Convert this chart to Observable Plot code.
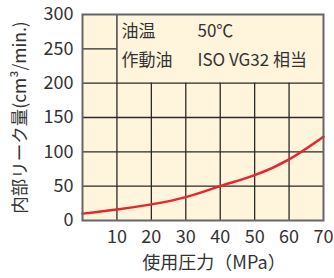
<!DOCTYPE html>
<html>
<head>
<meta charset="utf-8">
<script src="https://cdn.jsdelivr.net/npm/d3@7"></script>
<script src="https://cdn.jsdelivr.net/npm/@observablehq/plot@0.6"></script>
<style>
  html, body { margin: 0; padding: 0; background: #ffffff; }
  #chart svg { display: block; }
</style>
</head>
<body>
<div id="chart"></div>
<script>
const pressure = [0, 10, 20, 30, 40, 50, 60, 70];
const leak = [10, 16, 23.5, 34, 50, 66, 89, 122];
const xTicks = [10, 20, 30, 40, 50, 60, 70];
const yTicks = [0, 50, 100, 150, 200, 250, 300];
const vGrid = [10, 20, 30, 40, 50, 60];
const hGrid = [50, 100, 150, 200];
const noteLabels = ["油温", "作動油"];
const noteValues = ["50℃", "ISO VG32 相当"];
const xLabel = "使用圧力（MPa）";
const yLabel = "内部リーク量(cm³/min.)";

const data = pressure.map((p, i) => ({p, v: leak[i]}));
const font = "'Liberation Sans Narrow', 'Noto Sans CJK JP', sans-serif";

const chart = Plot.plot({
  width: 334,
  height: 278,
  marginLeft: 82,
  marginRight: 11,
  marginTop: 14,
  marginBottom: 58,
  style: {fontFamily: font, fontSize: "18px", color: "#333", background: "#fff"},
  x: {domain: [0, 70]},
  y: {domain: [0, 300]},
  marks: [
    Plot.frame({fill: "#fff4dc", stroke: null}),
    Plot.ruleX(vGrid, {y1: 0, y2: 200, stroke: "#2a2a2a", strokeWidth: 1.3}),
    Plot.ruleX([vGrid[0]], {y1: 200, y2: 300, stroke: "#2a2a2a", strokeWidth: 1.3}),
    Plot.ruleY(hGrid, {stroke: "#2a2a2a", strokeWidth: 1.3}),
    Plot.ruleY([250], {x1: 0, x2: 10, stroke: "#2a2a2a", strokeWidth: 1.3}),
    Plot.line(data, {x: "p", y: "v", curve: "natural", stroke: "#e8262b", strokeWidth: 2.5}),
    Plot.frame({stroke: "#666", strokeWidth: 2}),
    Plot.text([noteLabels[0]], {text: d => d, frameAnchor: "top-left", dx: 39, dy: 10, fontSize: 17, fill: "#333", textAnchor: "start"}),
    Plot.text([noteLabels[1]], {text: d => d, frameAnchor: "top-left", dx: 39, dy: 39, fontSize: 17, fill: "#333", textAnchor: "start"}),
    Plot.text([noteValues[0]], {text: d => d, frameAnchor: "top-left", dx: 115, dy: 10, fontSize: 17, fill: "#333", textAnchor: "start"}),
    Plot.text([noteValues[1]], {text: d => d, frameAnchor: "top-left", dx: 115, dy: 39, fontSize: 17, fill: "#333", textAnchor: "start"}),
    Plot.axisX(xTicks, {tickSize: 0, tickPadding: 10, fontSize: 18, label: null}),
    Plot.axisY(yTicks, {tickSize: 0, tickPadding: 9, fontSize: 18, label: null}),
    Plot.text([xLabel], {text: d => d, frameAnchor: "bottom", dx: 11, dy: 48, fontSize: 18, fill: "#333"}),
    Plot.text([yLabel], {text: d => d, frameAnchor: "left", dx: -62, dy: 0, rotate: -90, textAnchor: "middle", fontSize: 17.5, fill: "#333"})
  ]
});
document.getElementById("chart").appendChild(chart);
</script>
</body>
</html>
